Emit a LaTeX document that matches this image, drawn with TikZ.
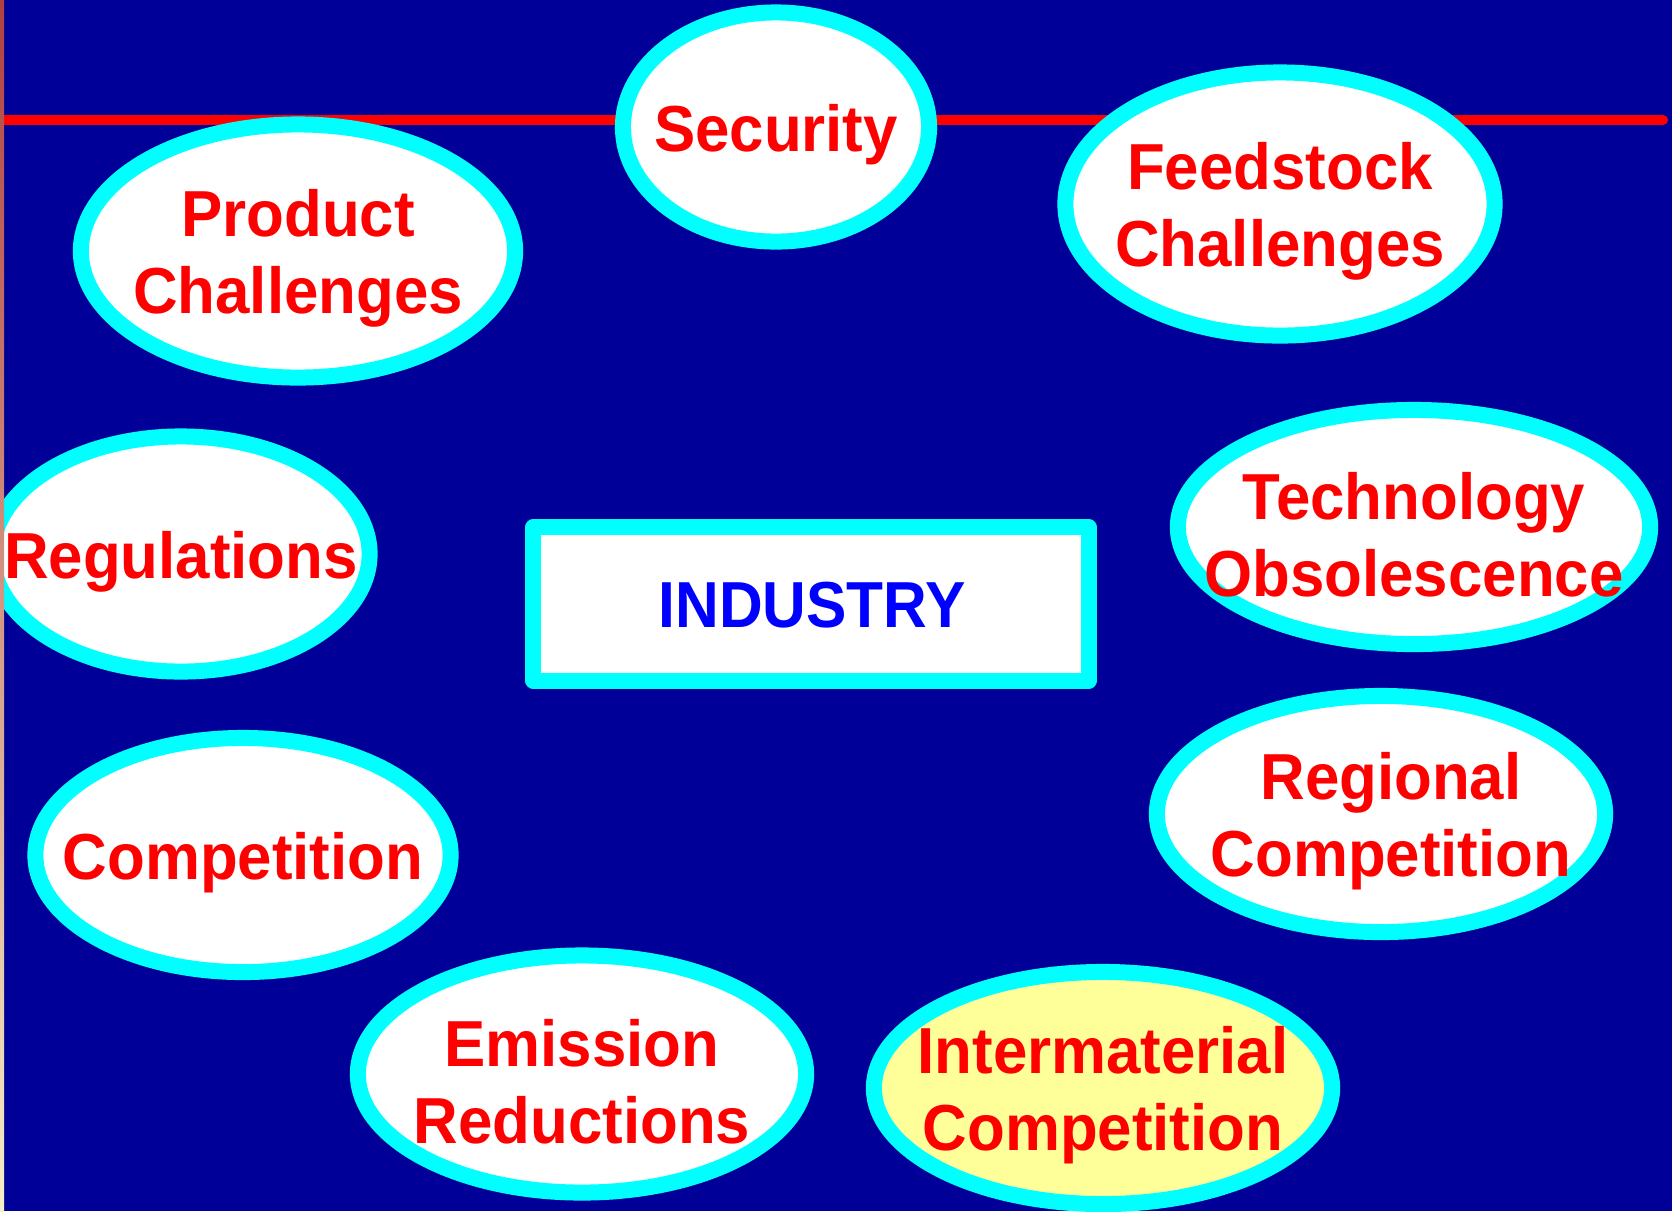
\documentclass[tikz,border=0pt]{standalone}
\usepackage{fontspec}
\usepackage{tikz}
\usetikzlibrary{shapes.geometric}

\newfontfamily\bubfont{Liberation Sans}[FakeStretch=0.95]
\newfontfamily\indfont{Liberation Sans}[FakeStretch=0.93]

\definecolor{slidebg}{RGB}{0,0,153}
\definecolor{ringcyan}{RGB}{0,255,255}
\definecolor{pale}{RGB}{255,255,153}
\definecolor{stripA}{RGB}{176,64,64}
\definecolor{stripB}{RGB}{245,238,200}

\tikzset{
  bubble/.style={ellipse, draw=ringcyan, line width=0.16cm, fill=white, inner sep=0pt},
  bubtext/.style={text=red, font=\bubfont\bfseries\fontsize{18.5}{21.9}\selectfont, align=center, inner sep=0pt, yshift=-0.075cm},
  hub/.style={draw=ringcyan, line width=0.16cm, line join=round, fill=white, inner sep=0pt},
}

\begin{document}
\begin{tikzpicture}[x=0.01cm, y=-0.01cm]
\useasboundingbox (0,0) rectangle (1672,1211);
\clip (0,0) rectangle (1672,1211);

\fill[slidebg] (0,0) rectangle (1672,1211);
\draw[red, line width=0.1cm, line cap=round] (4,120) -- (1663,120);

% centre box
\node[hub, minimum width=5.55cm, minimum height=1.53cm] (ind) at (811,604) {};
\node[text=blue, font=\indfont\bfseries\fontsize{18.5}{21.9}\selectfont, inner sep=0pt] (indt) at (812,605) {INDUSTRY};

% bubbles round it
\node[bubble, minimum width=3.06cm, minimum height=2.29cm] (sec) at (776,127) {};
\node[bubtext] (sect) at (sec) {Security};

\node[bubble, minimum width=4.34cm, minimum height=2.53cm] (prod) at (298,251) {};
\node[bubtext] (prodt) at (prod) {Product\\Challenges};

\node[bubble, minimum width=4.29cm, minimum height=2.63cm] (feed) at (1280,204) {};
\node[bubtext] (feedt) at (feed) {Feedstock\\Challenges};

\node[bubble, minimum width=3.77cm, minimum height=2.35cm] (reg) at (181,554) {};
\node[bubtext] (regt) at (reg) {Regulations};

\node[bubble, minimum width=4.72cm, minimum height=2.34cm] (tech) at (1414,527) {};
\node[bubtext] (techt) at (tech) {Technology\\Obsolescence};

\node[bubble, minimum width=4.15cm, minimum height=2.34cm] (comp) at (243,855) {};
\node[bubtext] (compt) at (comp) {Competition};

\node[bubble, minimum width=4.48cm, minimum height=2.36cm] (regc) at (1381,814) {};
\node[bubtext, xshift=0.1cm] (regct) at (regc) {Regional\\Competition};

\node[bubble, minimum width=4.48cm, minimum height=2.37cm] (emis) at (582,1074) {};
\node[bubtext] (emist) at (emis) {Emission\\Reductions};

\node[bubble, fill=pale, minimum width=4.58cm, minimum height=2.32cm] (inter) at (1103,1088) {};
\node[bubtext] (intert) at (inter) {Intermaterial\\Competition};

% edge of the slide
\shade[top color=stripA, bottom color=stripB] (0,0) rectangle (4,1211);

\end{tikzpicture}
\end{document}
